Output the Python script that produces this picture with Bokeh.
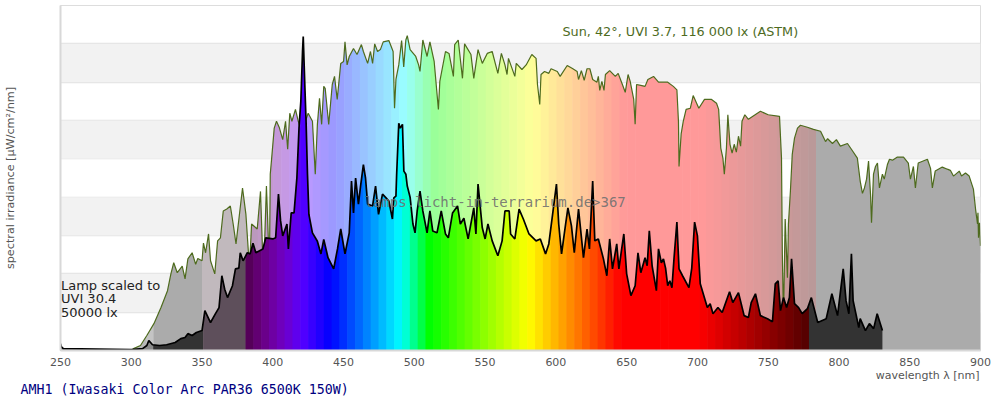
from bokeh.embed import file_html
from bokeh.resources import INLINE
from bokeh.plotting import figure
from bokeh.models import FixedTicker, Label, BoxAnnotation, Title
import numpy as np

sun_nm = [250,300,301.6,306.5,311,316,321,325.6,328,330,332.5,336,338,340,343,345.5,347,350,351,352.5,354.6,356,359,361,363,365,367.5,370,372,374,378.6,381,383.5,385,389,391.3,393.4,395.5,397.6,398.2,399.5,401,402.6,404.5,407,409,410.5,412,413.5,416,418,421,423,425,428,430,431.5,433,434.5,436,437,439.5,442,443.6,445.5,448,450,451,452.5,454,457,459.5,462.6,464,467,469,470.5,472,474,476,478,482,485,486,487,489,491,492.5,494,495,497,501,503,504,506,509,511,514,517,518,522,524.5,527.6,528.5,531,534,535.5,540,542,545,548,551.5,555,559,561.5,564,565.5,566.5,571,572,576,579,583,586,587,588.6,589.5,592,595,596.6,601,603,608,612,615,616,618,620,622,624,626,629,630,631,632.5,634,635,638,642,644,647,649,651,652.5,655,656,657,660,663,665,669,672.5,679,683,685.5,686.6,687,688.5,690,692,695,697,701,705,710,713.5,715,716.5,718,719,720.5,721.5,723,724.5,726,727.5,729,730.5,731.5,733.5,736,744.5,750,758,759.4,760,760.8,762,763.6,764.3,765.7,767,768.6,770.7,772.8,777.7,782,787,790.5,792,795.4,798.2,801,806,808.8,813,815,816.6,818,819.5,820.9,822.3,823,824.4,825.8,827.2,828.6,830.7,832,834.3,835.7,837.8,841.3,845.6,849,850.5,852.6,854,856,862.5,864.7,866,868,873,876.6,878.7,880.9,885,886.6,889.4,892,895,896.5,897.9,898.2,898.6,899.3,900]
sun_val = [0,0,1,2.6,7.8,14,22.4,31.2,40,45.8,40.6,44,37.4,47.8,51,45,48,46.8,56,51,60.8,46.8,40,57.2,58.8,72.8,73.8,75.4,66,55.6,84.8,71,43,66,63.4,83,38,85.8,42.6,92,103,116,119.6,116.5,110,119.6,105,123.8,119.6,125.8,119.6,111.8,119.6,123.8,119.6,92,118,131.6,118,137.8,136.8,118,138.8,143,131,149.8,150.8,161,149,153.4,157.6,154.4,159.6,156,149.8,156,149.8,160,156,157,161,161.7,156,126.4,141.4,149,161.7,148,162,164.3,157,153.4,149,145.6,162,153.4,161,150.8,125.8,140.4,156,155,143,159.6,162,142,160,154.4,142,157,149.8,155,156,144.6,155,149,144,152.4,143,149.8,146.6,149,154.4,152.4,138.8,128.4,144,145.6,144.6,147,145.6,143,148.7,147,145.6,141.4,146,141,147,147,141.4,140,143,135.7,140.4,135.7,144,146,143,144.6,138.8,134.7,144,140.4,131,118,138.8,138.3,137.8,141.4,143,140,140,137.8,136,119.6,96,113,119.6,125.8,126.4,133,126.4,131,131,129,125.8,105.6,100.4,92,105.6,123,107.6,103,107.6,103.5,111.8,106.6,119.6,123,120.6,124.8,123,122.2,100.4,50.4,15.6,68.6,38,66,83.2,102.4,110.8,116,117.5,116.5,115.4,114.4,109,110.5,108,110,106.6,108,105,100.4,88.4,82,84.8,89.4,98.8,81.6,66.6,92,96,97.8,84.8,92,89.4,97.2,99.8,99.3,100.9,100.9,97.8,89.4,96,84.8,97.8,99.8,95,84.8,93.6,95.7,94.6,94,91,93.6,91,92.6,91,84.2,73.8,66,71.8,58.8,66.6,54.6]

lamp_nm = [250,250.5,252,300,308,311,312.4,315,320,325,331,335,338,340,343,346,350,352,356,359.5,362,364,366,368,371.5,373.6,376,377,379,382,384,386,388,393,395,400,402,404,405.5,407,410,411,413,415,417,418.5,419.8,421,421.5,422.7,423.5,424.5,425.5,428,431.5,434,436,439,443,445.7,448,451,454,455.6,457,458.5,460.5,462,464,465.5,467,470.5,472.6,474.7,477.5,480,482,484.5,485.5,487,487.5,489,490,491.6,492.6,494,495,497,499,500.5,502,504,506,509,511,513,516,519,522,524,527,530.5,532.5,535,538,542,543.5,545,548,550,552,555,559,562,564,567,568,571,574,577,581,586,589,592.7,595,598,600.4,602,604,607,608.5,611,613,616,619.5,622,623.7,626,627.5,630,633.6,636,638,640,643,644.5,646,648,650,653,656,658,660,663,664.5,666,668,671,672.5,674.5,676,677.5,679,680.5,682,683.5,685.5,687,689.5,694,696,698,700,702,707,709,711,714.5,717.5,722.7,725,729,733,736,738,741,744.5,749.5,753,755,757,758.7,760.8,763,765,766.5,768.6,771.5,774,777.7,780.5,785,791,795,799,803,805,807,808.8,810,814,815,818.7,821.5,824.5,827,830.7]
lamp_val = [3.6,2,1,.5,1,2.6,5.2,3,2.6,3,4.2,6.2,6.8,8.8,7.8,9.4,10.4,20.8,14.6,19.2,22.4,39,32,27.6,33.8,42.6,43,51,46.8,51,50.4,56,51,53,58.8,58.2,58.8,81.6,67.6,59.8,66,53,71.8,71.8,90,116,130,156,163.8,136.8,119.6,92,71,61.4,57,50.4,58,48.4,42.6,53,63.4,50.4,61.4,88.4,71.8,90,76.4,85.8,97,90,76.4,75.4,85.8,71,81.6,79.6,78,68.6,79.6,80.6,92,118.6,116,118,93.6,92,85.8,80,66,61.4,72.8,83.2,72.8,61.4,72.8,62.4,61.4,72.8,60.8,58.8,71.8,75.4,66,69,58.2,74.4,60.8,86.8,64,58.2,66,57.2,49.4,57.2,72.8,72.8,60.8,58.2,73.8,68.6,60.8,57.2,58.2,50.4,55.6,72.8,86.8,66,50.4,66.6,74.4,65,51,73.8,48.4,63.4,53,88.4,57.2,58.2,47.8,39,58.2,42.6,55.6,42.6,50.4,60.8,40,28.6,33.8,51,40.6,48.4,44.2,62.4,44.2,31.2,53,45.8,47.8,43,33.8,36.4,32.8,48.4,67,42.6,39,32.8,43,67,59.8,34.8,22.4,24.4,19.2,22.4,19.8,30.7,25,30.2,18.2,17.2,25,29.6,18.2,16.6,15,34.8,36.4,20.8,27.6,22.4,27.6,47.8,24.4,22.4,19.2,21.8,27.6,14.6,16.6,29.6,18.2,42.6,26,19.2,50.4,26,12,16.6,10.4,14,11.4,19.2,10.4]

x_ticks = [250,300,350,400,450,500,550,600,650,700,750,800,850,900]
title_text = "AMH1 (Iwasaki Color Arc PAR36 6500K 150W)"
x_label = "wavelength λ [nm]"
sun_text = "Sun, 42°, UVI 3.7, 116 000 lx (ASTM)"
lamp_lines = ["Lamp scaled to", "UVI 30.4", "50000 lx"]
mark_text = "lamps.licht-im-terrarium.de>367"

def spectral(w):
    if w < 440: r, g, b = (440-w)/60, 0, 1
    elif w < 490: r, g, b = 0, (w-440)/50, 1
    elif w < 510: r, g, b = 0, 1, (510-w)/20
    elif w < 580: r, g, b = (w-510)/70, 1, 0
    elif w < 645: r, g, b = 1, (645-w)/65, 0
    else: r, g, b = 1, 0, 0
    if w < 420: f = .3+.7*(w-380)/40
    elif w <= 700: f = 1
    else: f = .3+.7*(780-w)/80
    return np.array([r*f, g*f, b*f])*255

def hexc(c):
    return "#%02x%02x%02x" % tuple(int(round(max(0, min(255, v)))) for v in c)

def pale(c):
    return 0.4*np.asarray(c)+0.6*255

p = figure(width=1000, height=400, output_backend="svg", toolbar_location=None,
           x_range=(250, 900), y_range=(0, 180), frame_width=920, frame_height=345,
           min_border_left=60, min_border_right=20,
           min_border_top=5, min_border_bottom=50, tools="")
p.background_fill_color = "white"
p.outline_line_color = "#dddddd"
p.outline_line_width = 1

for lo, hi in [(20,40),(60,80),(100,120),(140,160)]:
    p.add_layout(BoxAnnotation(bottom=lo, top=hi, fill_color="#f2f2f2", fill_alpha=1, line_alpha=0, level="underlay"))

p.xgrid.visible = False
p.ygrid.ticker = FixedTicker(ticks=list(range(20, 180, 20)))
p.ygrid.grid_line_color = "#e2e2e2"
p.ygrid.grid_line_width = 1.5
p.ygrid.level = "underlay"

p.xaxis.ticker = FixedTicker(ticks=x_ticks)
p.xaxis.major_tick_line_color = None
p.xaxis.minor_tick_line_color = None
p.xaxis.axis_line_color = "#d8d8d8"
p.xaxis.axis_line_width = 2
p.xaxis.major_label_text_color = "#555555"
p.xaxis.major_label_text_font = "DejaVu Sans"
p.xaxis.major_label_text_font_size = "11px"
p.xaxis.major_label_standoff = 1
p.yaxis.ticker = FixedTicker(ticks=[])
p.yaxis.major_tick_line_color = None
p.yaxis.minor_tick_line_color = None
p.yaxis.axis_line_color = "#d8d8d8"
p.yaxis.axis_line_width = 2
p.yaxis.axis_label = "spectral irradiance [µW/cm²/nm]"
p.yaxis.axis_label_text_font = "DejaVu Sans"
p.yaxis.axis_label_text_font_size = "11.2px"
p.yaxis.axis_label_text_font_style = "normal"
p.yaxis.axis_label_text_color = "#555555"
p.yaxis.axis_label_standoff = 44

p.add_layout(Title(text=x_label, align="right", offset=1, standoff=-4, text_line_height=0.1, text_color="#555555",
                   text_font="DejaVu Sans", text_font_size="11px", text_font_style="normal"), "below")
p.add_layout(Title(text=title_text, align="left", offset=-40, standoff=0, text_color="#000080",
                   text_font="DejaVu Sans Mono", text_font_size="13.3px", text_font_style="normal"), "below")

sun_x, sun_y = np.array(sun_nm, float), np.array(sun_val, float)
lamp_x, lamp_y = np.array(lamp_nm, float), np.array(lamp_val, float)

def band(nm, vals, lo, hi, color):
    keep = nm[(nm > lo) & (nm < hi)]
    xs = np.concatenate([[lo], keep, [hi]])
    ys = np.interp(xs, nm, vals)
    p.varea(xs, 0, ys, fill_color=color, fill_alpha=1)

N = 72
# sun fill
band(sun_x, sun_y, 250, 311, "#b8b8b8")
band(sun_x, sun_y, 311, 315.5, "#c4c4c4")
band(sun_x, sun_y, 315.5, 350.5, "#ababab")
band(sun_x, sun_y, 350, 384.2, "#c1b9bd")
W1 = (783.8-383.7)/N
for i in range(N):
    lo = 383.7 + i*W1
    band(sun_x, sun_y, lo, lo+W1+.4, hexc(pale(spectral(380+(i+.5)*W1))))
band(sun_x, sun_y, 783.8, 900, "#ababab")
p.line(sun_x, sun_y, line_color="#4e6b1e", line_width=1.2)

# lamp fill
band(lamp_x, lamp_y, 250, 315.8, "#8a8a8a")
band(lamp_x, lamp_y, 315.5, 351, "#333333")
band(lamp_x, lamp_y, 350.8, 381, "#5e4f5b")
W2 = (778.8-380.7)/N
for i in range(N):
    lo = 380.7 + i*W2
    band(lamp_x, lamp_y, lo, lo+W2+.4, hexc(spectral(380+(i+.5)*W2)))
band(lamp_x, lamp_y, 778.8, 830.7, "#333333")
p.line(lamp_x, lamp_y, line_color="black", line_width=1.7)

def lab(text, X, Y, **kw):
    p.add_layout(Label(x=X, y=Y, x_units="canvas", y_units="canvas", text=text,
                       text_baseline="middle", **kw))

lab(sun_text, 562, 31, text_color="#4e6b1e", text_font="DejaVu Sans", text_font_size="12.8px")
lab(mark_text, 364, 201, text_color="#707070", text_alpha=.9, text_font="DejaVu Sans Mono", text_font_size="14px")
for t, yy in zip(lamp_lines, [285, 298, 312]):
    lab(t, 60.5, yy, text_color="#222222", text_font="DejaVu Sans", text_font_size="13px")

open("out.html", "w").write(file_html(p, INLINE))
